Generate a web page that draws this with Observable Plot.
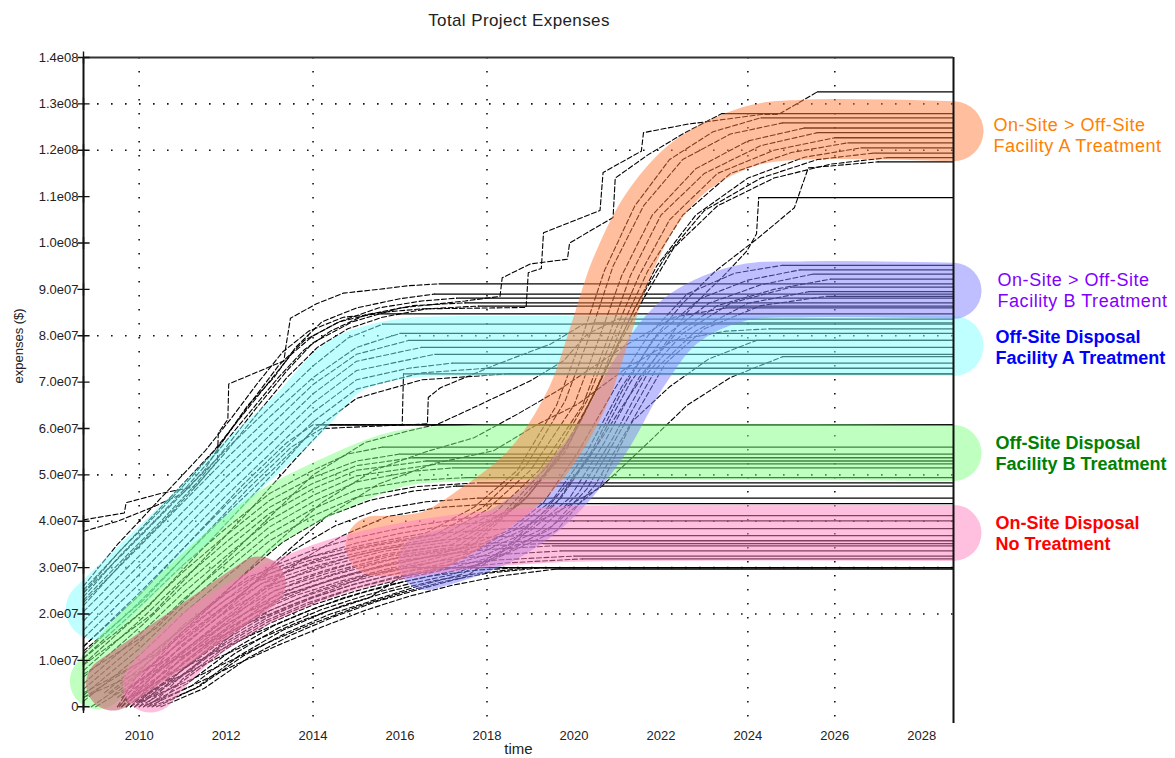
<!DOCTYPE html>
<html>
<head>
<meta charset="utf-8">
<script src="https://cdn.jsdelivr.net/npm/d3@7"></script>
<script src="https://cdn.jsdelivr.net/npm/@observablehq/plot@0.6"></script>
<style>
  html, body { margin: 0; padding: 0; background: #fff; overflow: hidden; }
  body { font-family: "Liberation Sans", Arial, sans-serif; width: 1175px; height: 758px; }
  #title { position: relative; width: 1175px; height: 40px; }
  #title span { position: absolute; left: 519px; top: 11px; transform: translateX(-50%);
    font-size: 17px; letter-spacing: 0.4px; color: #222; white-space: nowrap; }
  g[fill="#ff8000"] text, g[fill="#8000ff"] text { letter-spacing: 0.55px; }
</style>
</head>
<body>
<div id="title"><span>Total Project Expenses</span></div>
<div id="chart"></div>
<script>
// ---------- time span and axis values (values in units of 1e7 $) ----------
const startYear = 2008.72;
const endYear = 2028.73;
const yTicks = [0, 1, 2, 3, 4, 5, 6, 7, 8, 9, 10, 11, 12, 13, 14];
const yTickLabels = ["0", "1.0e07", "2.0e07", "3.0e07", "4.0e07", "5.0e07", "6.0e07", "7.0e07",
  "8.0e07", "9.0e07", "1.0e08", "1.1e08", "1.2e08", "1.3e08", "1.4e08"];
const xTicks = [2010, 2012, 2014, 2016, 2018, 2020, 2022, 2024, 2026, 2028];
const gridY = [2, 3, 4, 5, 8, 12, 13];
const gridX = [2010, 2014, 2018, 2024, 2026];

// ---------- realizations: [year, expenses/1e7] ----------
const upperRuns = [
  [[2008.72,4.03],[2009.66,4.18],[2009.7,4.4],[2010.5,4.6],[2011.3,4.75],[2011.8,5.3],[2011.82,5.9],[2012.04,6.2],[2012.06,6.96],[2013.33,7.46],[2013.37,7.74],[2013.48,8.38],[2014.08,8.69],[2014.7,8.92],[2015.5,9.0],[2016.2,9.08],[2016.9,9.12]],
  [[2008.72,3.78],[2009.5,4.0],[2010.3,4.3],[2011.0,4.6],[2011.5,5.1],[2011.9,5.7],[2012.5,6.5],[2013.1,7.1],[2013.6,7.75],[2014.2,8.3],[2015.0,8.6],[2016.0,8.8],[2016.8,8.9]],
  [[2008.72,2.46],[2009.5,3.3],[2010.3,4.1],[2011.0,4.8],[2011.7,5.5],[2012.3,6.2],[2012.9,6.9],[2013.5,7.6],[2014.0,8.0],[2014.6,8.3],[2015.5,8.6],[2016.5,8.75],[2017.3,8.81]],
  [[2008.72,2.37],[2009.6,3.3],[2010.4,4.05],[2011.1,4.75],[2011.8,5.5],[2012.5,6.3],[2013.2,7.1],[2013.8,7.7],[2014.4,8.1],[2015.2,8.45],[2016.3,8.65],[2017.5,8.71]],
  [[2008.72,2.18],[2009.7,3.2],[2010.5,3.95],[2011.3,4.75],[2012.0,5.5],[2012.7,6.3],[2013.4,7.1],[2014.1,7.75],[2014.8,8.15],[2015.6,8.4],[2016.6,8.58],[2017.8,8.64]],
  [[2008.72,2.6],[2009.5,3.5],[2010.2,4.2],[2010.9,4.9],[2011.5,5.5],[2012.1,6.2],[2012.7,6.95],[2013.3,7.65],[2013.9,8.1],[2014.7,8.4],[2015.5,8.47]]
];
const tallRuns = [
  [[2008.72,2.52],[2009.6,3.4],[2010.4,4.15],[2011.2,4.95],[2011.9,5.7],[2012.6,6.6],[2013.2,7.35],[2013.8,7.9],[2014.6,8.3],[2015.5,8.5],[2016.5,8.58],[2018.9,8.61],[2018.95,9.36],[2019.25,9.45],[2019.3,10.22],[2020.6,10.7],[2020.67,11.52],[2021.55,11.98],[2021.6,12.38],[2022.6,12.56],[2024.3,12.77],[2024.7,12.77],[2025.6,13.26]],
  [[2008.72,2.3],[2009.7,3.25],[2010.5,4.0],[2011.3,4.8],[2012.0,5.6],[2012.7,6.45],[2013.4,7.25],[2014.0,7.85],[2014.9,8.3],[2016.0,8.6],[2017.5,8.75],[2018.3,8.85],[2018.35,9.25],[2019.0,9.55],[2019.85,9.65],[2019.9,10.0],[2020.9,10.55],[2020.95,11.4],[2021.7,11.9],[2022.5,12.35],[2023.4,12.79]],
  [[2010.4,0.0],[2011.4,0.45],[2012.4,1.1],[2013.4,1.6],[2014.4,2.0],[2015.4,2.3],[2016.4,2.6],[2017.4,2.85],[2018.4,3.4],[2019.3,4.2],[2020.3,5.3],[2021.2,6.6],[2022.0,7.7],[2022.6,8.5],[2023.08,8.97],[2023.4,9.25],[2023.98,9.83],[2024.2,10.2],[2024.25,10.98]],
  [[2010.5,0.0],[2011.5,0.4],[2012.5,1.05],[2013.5,1.55],[2014.5,1.95],[2015.5,2.28],[2016.5,2.55],[2017.5,2.8],[2018.6,3.5],[2019.6,4.4],[2020.4,5.5],[2021.1,6.8],[2021.8,7.9],[2022.5,8.7],[2023.26,9.4],[2024.24,10.11],[2025.07,10.76],[2025.39,11.62],[2027.0,11.75]]
];
const cyanRuns = [
  [[2008.72,2.45],[2010.0,3.65],[2011.0,4.6],[2012.0,5.55],[2013.0,6.45],[2014.0,7.35],[2014.8,7.95],[2015.6,8.25]],
  [[2008.72,2.25],[2010.0,3.45],[2011.0,4.4],[2012.0,5.35],[2013.0,6.25],[2014.0,7.1],[2015.0,7.75],[2016.0,8.05]],
  [[2008.72,2.05],[2010.0,3.25],[2011.0,4.2],[2012.0,5.15],[2013.0,6.05],[2014.0,6.95],[2015.0,7.6],[2016.2,7.9]],
  [[2008.72,1.85],[2010.0,3.05],[2011.0,4.0],[2012.0,4.95],[2013.0,5.85],[2014.0,6.75],[2015.0,7.45],[2016.5,7.75]],
  [[2008.72,1.65],[2010.0,2.85],[2011.0,3.8],[2012.0,4.75],[2013.0,5.65],[2014.0,6.55],[2015.0,7.25],[2016.8,7.6]],
  [[2008.72,1.48],[2010.0,2.65],[2011.0,3.6],[2012.0,4.55],[2013.0,5.45],[2014.0,6.35],[2015.0,7.05],[2016.2,7.3],[2017.2,7.41]],
  [[2008.72,1.3],[2010.0,2.45],[2011.0,3.4],[2012.0,4.35],[2013.0,5.25],[2014.0,6.15],[2015.0,6.85],[2016.5,7.2],[2018.0,7.3]],
  [[2008.72,1.14],[2010.0,2.25],[2011.0,3.2],[2012.0,4.15],[2013.0,5.05],[2014.0,5.95],[2015.0,6.65],[2016.5,7.05],[2018.5,7.18]]
];
const betweenRuns = [
  [[2008.72,1.3],[2010.0,2.4],[2011.2,3.6],[2012.4,4.8],[2013.4,5.7],[2014.0,6.08],[2016.05,6.08],[2016.08,7.18]],
  [[2008.72,1.05],[2010.2,2.15],[2011.4,3.35],[2012.6,4.55],[2013.5,5.45],[2014.1,6.08]],
  [[2008.72,0.9],[2010.3,2.0],[2011.5,3.2],[2012.7,4.4],[2013.6,5.35],[2014.3,6.05],[2014.35,6.08]],
  [[2008.72,1.2],[2010.1,2.3],[2011.3,3.5],[2012.5,4.7],[2013.5,5.6],[2014.2,6.0],[2016.63,6.1],[2016.65,6.67],[2016.93,6.88],[2018.24,7.39],[2019.46,7.82],[2020.22,8.25],[2020.5,8.28]],
  [[2008.72,0.7],[2010.4,1.7],[2011.7,2.9],[2012.9,4.0],[2014.0,5.0],[2015.2,5.7],[2016.2,5.95],[2016.86,6.09],[2017.85,6.52],[2019.0,7.03],[2019.76,7.46],[2020.3,8.03],[2021.0,8.36]],
  [[2008.72,0.3],[2010.5,1.2],[2011.8,2.3],[2013.0,3.4],[2014.2,4.4],[2015.4,5.1],[2016.6,5.5],[2017.7,5.8],[2018.7,6.31],[2019.62,6.81],[2020.08,7.1],[2021.2,7.8],[2022.3,8.4],[2023.5,8.6]],
  [[2008.72,0.2],[2010.6,1.0],[2011.9,2.0],[2013.1,3.1],[2014.3,4.1],[2015.5,4.8],[2016.8,5.25],[2018.15,5.52],[2019.16,6.09],[2020.08,6.52],[2021.2,7.3],[2022.3,7.9],[2023.5,8.1],[2024.5,8.15]],
  [[2008.72,0.2],[2010.0,0.95],[2011.2,1.85],[2012.3,2.75],[2013.3,3.55],[2014.3,4.1],[2015.3,4.45],[2016.3,4.65],[2017.3,4.76]],
  [[2008.9,0.0],[2010.2,0.85],[2011.4,1.7],[2012.5,2.55],[2013.5,3.35],[2014.5,3.9],[2015.5,4.25],[2016.6,4.42],[2017.8,4.5]],
  [[2009.0,0.0],[2010.4,0.8],[2011.6,1.6],[2012.7,2.4],[2013.7,3.15],[2014.7,3.7],[2015.7,4.1],[2016.9,4.3],[2018.2,4.38]]
];
const greenRuns = [
  [[2008.72,1.05],[2010.0,2.15],[2011.0,3.05],[2012.0,3.85],[2013.0,4.6],[2014.0,5.1],[2014.8,5.45],[2015.6,5.6]],
  [[2008.72,0.92],[2010.0,2.0],[2011.0,2.9],[2012.0,3.7],[2013.0,4.45],[2014.0,4.95],[2015.0,5.3],[2016.0,5.45]],
  [[2008.72,0.78],[2010.0,1.85],[2011.0,2.75],[2012.0,3.55],[2013.0,4.3],[2014.0,4.82],[2015.0,5.2],[2016.3,5.37]],
  [[2008.72,0.64],[2010.0,1.7],[2011.0,2.6],[2012.0,3.4],[2013.0,4.17],[2014.0,4.7],[2015.0,5.1],[2016.6,5.3]],
  [[2008.72,0.5],[2010.0,1.55],[2011.0,2.45],[2012.0,3.25],[2013.0,4.02],[2014.0,4.56],[2015.0,4.98],[2016.9,5.24]],
  [[2008.72,0.38],[2010.0,1.4],[2011.0,2.3],[2012.0,3.1],[2013.0,3.88],[2014.0,4.42],[2015.0,4.85],[2016.3,5.08],[2017.2,5.15]],
  [[2008.72,0.25],[2010.0,1.25],[2011.0,2.15],[2012.0,2.95],[2013.0,3.73],[2014.0,4.27],[2015.0,4.68],[2016.3,4.88],[2017.5,4.94]],
  [[2008.72,0.12],[2010.0,1.1],[2011.0,2.0],[2012.0,2.8],[2013.0,3.58],[2014.0,4.12],[2015.0,4.52],[2016.4,4.75],[2017.8,4.83]]
];
const lowerRuns = [
  [[2009.6,0.3],[2010.5,0.85],[2011.5,1.35],[2012.5,1.8],[2013.5,2.2],[2014.5,2.55],[2015.3,2.85],[2016.2,3.0]],
  [[2009.9,0.15],[2010.8,0.6],[2011.8,1.05],[2012.8,1.48],[2013.8,1.88],[2014.8,2.22],[2015.8,2.5],[2016.8,2.72],[2017.8,2.88],[2019.0,3.0]],
  [[2010.0,0.1],[2011.0,0.5],[2012.0,0.95],[2013.0,1.4],[2014.0,1.8],[2015.0,2.15],[2016.0,2.45],[2017.0,2.7],[2018.0,2.88],[2019.3,3.0]],
  [[2009.8,0.2],[2010.7,0.7],[2011.7,1.15],[2012.7,1.6],[2013.7,2.0],[2014.7,2.35],[2015.7,2.62],[2016.7,2.82],[2017.8,2.95],[2018.8,3.0]],
  [[2010.2,0.05],[2011.2,0.45],[2012.2,0.9],[2013.2,1.33],[2014.2,1.72],[2015.2,2.08],[2016.2,2.38],[2017.2,2.62],[2018.3,2.82],[2019.6,2.97]]
];
const pinkRuns = [
  [[2009.5,0.0],[2010.0,0.75],[2011.0,1.75],[2012.0,2.45],[2013.0,3.0],[2014.0,3.38],[2015.0,3.65],[2016.0,3.85],[2017.0,4.0],[2018.0,4.12]],
  [[2009.55,0.0],[2010.0,0.6],[2011.0,1.62],[2012.0,2.32],[2013.0,2.87],[2014.0,3.25],[2015.0,3.53],[2016.0,3.74],[2017.0,3.9],[2018.3,4.01]],
  [[2009.6,0.0],[2010.0,0.47],[2011.0,1.5],[2012.0,2.2],[2013.0,2.75],[2014.0,3.13],[2015.0,3.42],[2016.0,3.6],[2017.0,3.75],[2018.5,3.84]],
  [[2009.7,0.0],[2010.0,0.35],[2011.0,1.35],[2012.0,2.05],[2013.0,2.6],[2014.0,2.98],[2015.0,3.27],[2016.0,3.47],[2017.0,3.6],[2018.7,3.69]],
  [[2009.8,0.0],[2010.2,0.4],[2011.0,1.2],[2012.0,1.9],[2013.0,2.45],[2014.0,2.83],[2015.0,3.12],[2016.0,3.32],[2017.0,3.47],[2019.0,3.58]],
  [[2009.9,0.0],[2010.3,0.38],[2011.0,1.08],[2012.0,1.78],[2013.0,2.33],[2014.0,2.72],[2015.0,3.02],[2016.0,3.23],[2017.0,3.38],[2018.0,3.47],[2019.3,3.52]],
  [[2010.0,0.0],[2010.4,0.36],[2011.0,0.95],[2012.0,1.65],[2013.0,2.2],[2014.0,2.6],[2015.0,2.9],[2016.0,3.12],[2017.0,3.28],[2018.0,3.39],[2019.5,3.47]],
  [[2010.1,0.0],[2010.5,0.34],[2011.0,0.82],[2012.0,1.52],[2013.0,2.07],[2014.0,2.47],[2015.0,2.78],[2016.0,3.0],[2017.0,3.16],[2018.2,3.28],[2019.7,3.36]],
  [[2010.2,0.0],[2010.6,0.32],[2011.0,0.7],[2012.0,1.4],[2013.0,1.95],[2014.0,2.35],[2015.0,2.66],[2016.0,2.89],[2017.0,3.05],[2018.3,3.17],[2020.0,3.25]],
  [[2010.3,0.0],[2010.7,0.3],[2011.0,0.6],[2012.0,1.3],[2013.0,1.85],[2014.0,2.25],[2015.0,2.57],[2016.0,2.8],[2017.0,2.97],[2018.4,3.1],[2020.2,3.19]]
];
const orangeRuns = [
  [[2009.2,0.3],[2010.3,1.15],[2011.4,2.0],[2012.5,2.8],[2013.8,3.2],[2015.2,3.5],[2016.6,3.75],[2017.7,4.3],[2018.7,5.1],[2019.6,6.5],[2020.2,8.0],[2020.7,9.4],[2021.4,10.8],[2022.2,11.8],[2023.2,12.4],[2024.3,12.7]],
  [[2009.3,0.3],[2010.4,1.1],[2011.5,1.95],[2012.6,2.75],[2013.9,3.15],[2015.3,3.45],[2016.8,3.7],[2017.9,4.3],[2018.9,5.2],[2019.8,6.6],[2020.4,8.1],[2020.9,9.5],[2021.6,10.8],[2022.5,11.8],[2023.6,12.35],[2024.8,12.59]],
  [[2009.4,0.25],[2010.5,1.05],[2011.6,1.9],[2012.7,2.7],[2014.0,3.1],[2015.4,3.4],[2016.9,3.65],[2018.0,4.25],[2019.0,5.1],[2020.0,6.5],[2020.6,8.0],[2021.1,9.3],[2021.8,10.6],[2022.8,11.6],[2024.0,12.2],[2025.3,12.48]],
  [[2009.5,0.2],[2010.6,1.0],[2011.7,1.85],[2012.8,2.65],[2014.1,3.05],[2015.5,3.38],[2017.0,3.6],[2018.2,4.2],[2019.2,5.1],[2020.2,6.5],[2020.8,8.0],[2021.3,9.3],[2022.0,10.6],[2023.0,11.5],[2024.3,12.1],[2025.6,12.38]],
  [[2009.6,0.2],[2010.7,0.95],[2011.8,1.8],[2012.9,2.6],[2014.2,3.0],[2015.6,3.35],[2017.1,3.55],[2018.4,4.2],[2019.4,5.2],[2020.3,6.6],[2020.9,8.0],[2021.5,9.3],[2022.2,10.5],[2023.3,11.5],[2024.6,12.0],[2026.0,12.27]],
  [[2009.7,0.15],[2010.8,0.9],[2011.9,1.75],[2013.0,2.55],[2014.3,2.95],[2015.7,3.3],[2017.2,3.5],[2018.6,4.3],[2019.6,5.3],[2020.5,6.8],[2021.1,8.2],[2021.7,9.4],[2022.5,10.6],[2023.6,11.5],[2025.0,11.95],[2026.3,12.16]],
  [[2009.8,0.15],[2010.9,0.85],[2012.0,1.7],[2013.1,2.5],[2014.4,2.9],[2015.8,3.25],[2017.3,3.45],[2018.8,4.4],[2019.8,5.5],[2020.6,7.0],[2021.3,8.4],[2021.9,9.5],[2022.8,10.6],[2024.0,11.4],[2025.3,11.85],[2026.6,12.05]],
  [[2009.9,0.1],[2011.0,0.8],[2012.1,1.65],[2013.2,2.45],[2014.5,2.85],[2015.9,3.2],[2017.4,3.4],[2018.9,4.5],[2019.9,5.7],[2020.7,7.2],[2021.4,8.6],[2022.1,9.7],[2023.0,10.7],[2024.3,11.4],[2025.6,11.8],[2026.9,11.94]],
  [[2010.0,0.1],[2011.1,0.75],[2012.2,1.6],[2013.3,2.4],[2014.6,2.8],[2016.0,3.15],[2017.5,3.35],[2019.0,4.6],[2020.0,5.9],[2020.8,7.4],[2021.6,8.8],[2022.3,9.9],[2023.3,10.8],[2024.6,11.4],[2025.9,11.7],[2027.2,11.84]]
];
const blueRuns = [
  [[2009.5,0.0],[2010.5,0.8],[2011.5,1.5],[2012.5,2.05],[2013.5,2.45],[2014.5,2.75],[2015.5,3.0],[2016.5,3.2],[2017.5,3.45],[2018.5,3.8],[2019.3,4.4],[2020.1,5.5],[2020.9,6.8],[2021.7,8.0],[2022.6,8.9],[2023.7,9.35],[2024.8,9.52]],
  [[2009.6,0.0],[2010.6,0.75],[2011.6,1.45],[2012.6,2.0],[2013.6,2.4],[2014.6,2.7],[2015.6,2.95],[2016.6,3.15],[2017.6,3.4],[2018.6,3.8],[2019.5,4.45],[2020.3,5.5],[2021.1,6.9],[2021.9,8.0],[2022.9,8.8],[2024.0,9.2],[2025.2,9.42]],
  [[2009.7,0.0],[2010.7,0.7],[2011.7,1.4],[2012.7,1.95],[2013.7,2.35],[2014.7,2.65],[2015.7,2.9],[2016.7,3.1],[2017.7,3.35],[2018.8,3.8],[2019.7,4.5],[2020.5,5.6],[2021.3,7.0],[2022.1,8.0],[2023.1,8.7],[2024.3,9.1],[2025.5,9.33]],
  [[2009.8,0.0],[2010.8,0.65],[2011.8,1.35],[2012.8,1.9],[2013.8,2.3],[2014.8,2.6],[2015.8,2.85],[2016.8,3.05],[2017.8,3.3],[2019.0,3.8],[2019.9,4.5],[2020.7,5.7],[2021.5,7.1],[2022.3,8.0],[2023.3,8.65],[2024.6,9.0],[2025.9,9.22]],
  [[2009.9,0.0],[2010.9,0.6],[2011.9,1.3],[2012.9,1.85],[2013.9,2.25],[2014.9,2.55],[2015.9,2.8],[2016.9,3.0],[2017.9,3.25],[2019.2,3.8],[2020.1,4.6],[2020.9,5.8],[2021.7,7.2],[2022.5,8.05],[2023.6,8.7],[2025.0,9.05]],
  [[2010.0,0.0],[2011.0,0.55],[2012.0,1.25],[2013.0,1.8],[2014.0,2.2],[2015.0,2.5],[2016.0,2.75],[2017.0,2.95],[2018.0,3.2],[2019.4,3.8],[2020.3,4.7],[2021.1,6.0],[2021.9,7.3],[2022.8,8.1],[2024.0,8.7],[2025.4,8.95]],
  [[2010.1,0.0],[2011.1,0.5],[2012.1,1.2],[2013.1,1.75],[2014.1,2.15],[2015.1,2.45],[2016.1,2.7],[2017.1,2.9],[2018.1,3.15],[2019.6,3.8],[2020.5,4.8],[2021.3,6.1],[2022.1,7.4],[2023.0,8.15],[2024.3,8.65],[2025.8,8.85]],
  [[2010.2,0.0],[2011.2,0.45],[2012.2,1.15],[2013.2,1.7],[2014.2,2.1],[2015.2,2.4],[2016.2,2.65],[2017.2,2.85],[2018.4,3.3],[2019.5,3.9],[2020.6,4.75],[2021.35,6.16],[2022.2,6.9],[2023.1,7.5],[2024.2,7.9]],
  [[2010.3,0.0],[2011.3,0.4],[2012.3,1.1],[2013.3,1.65],[2014.3,2.05],[2015.3,2.35],[2016.0,2.79],[2017.0,3.0],[2018.4,3.72],[2019.46,4.12],[2020.61,4.73],[2021.6,5.6],[2022.6,6.5],[2023.6,7.1],[2024.8,7.55]]
];

// ---------- highlighted scenario bands: [year, expenses/1e7] ----------
const cyanBand = [[2009.0,2.1],[2010.0,3.0],[2011.26,4.14],[2012.47,5.28],[2013.6,6.25],[2014.7,7.33],[2015.5,7.62],[2016.3,7.75],[2017.5,7.78],[2028.73,7.78]];
const greenBand = [[2009.05,0.55],[2010.03,1.6],[2011.41,2.85],[2013.03,4.1],[2014.7,4.9],[2016.0,5.35],[2017.5,5.47],[2028.73,5.47]];
const blueBand = [[2016.6,3.12],[2017.6,3.4],[2018.5,3.78],[2019.46,4.44],[2020.61,5.73],[2021.53,7.24],[2022.45,8.32],[2023.83,8.92],[2025.21,9.0],[2028.73,8.97]];
const orangeBand = [[2015.44,3.47],[2016.7,3.58],[2017.85,4.22],[2019.0,5.09],[2020.04,6.59],[2020.61,8.1],[2021.07,9.4],[2021.76,10.69],[2022.68,11.66],[2024.07,12.31],[2025.21,12.44],[2028.73,12.41]];
const transitionBand = [[2009.4,0.5],[2012.75,2.66]];
const pinkBand = [[2010.26,0.48],[2011.26,1.45],[2012.56,2.25],[2013.6,2.7],[2014.7,3.07],[2016.0,3.35],[2017.4,3.55],[2019.2,3.7],[2021.5,3.75],[2028.73,3.75]];

// ---------- scenario labels ----------
const labelTexts = [
  "On-Site > Off-Site\nFacility A Treatment",
  "On-Site > Off-Site\nFacility B Treatment",
  "Off-Site Disposal\nFacility A Treatment",
  "Off-Site Disposal\nFacility B Treatment",
  "On-Site Disposal\nNo Treatment"
];
const labelValues = [12.34, 9.0, 7.77, 5.48, 3.76];
const labelColors = ["#ff8000", "#8000ff", "#0000ff", "#008000", "#ff0000"];

// ---------- build tables ----------
const runGroups = [upperRuns, tallRuns, cyanRuns, betweenRuns, greenRuns, lowerRuns, pinkRuns, orangeRuns, blueRuns];
const risePts = [];
const flatSegs = [];
runGroups.forEach((runs, g) => runs.forEach((run, r) => {
  const id = g + "-" + r;
  for (const [t, v] of run) risePts.push({id, t, v});
  const [t0, v0] = run[run.length - 1];
  flatSegs.push({t0, t1: endYear, v: v0});
}));
const yLabelOf = new Map(yTicks.map((d, i) => [d, yTickLabels[i]]));

const band = (pts, color, width, opacity) => Plot.line(pts, {
  x: d => d[0], y: d => d[1], stroke: color, strokeWidth: width, strokeOpacity: opacity,
  strokeLinecap: "round", strokeLinejoin: "round", curve: "catmull-rom"
});

const labelDx = [40, 44, 42, 42, 42];
const labelBold = [false, false, true, true, true];
const labelMarks = labelTexts.map((txt, i) => Plot.text([txt], {
  x: () => endYear, y: () => labelValues[i], text: d => d,
  fill: labelColors[i], dx: labelDx[i], textAnchor: "start", lineAnchor: "middle",
  fontSize: 18, lineHeight: 1.17, fontWeight: labelBold[i] ? "bold" : "normal"
}));

const chart = Plot.plot({
  width: 1175,
  height: 718,
  marginLeft: 83,
  marginRight: 222,
  marginTop: 17,
  marginBottom: 35,
  x: {domain: [startYear, endYear]},
  y: {domain: [-0.36, 14]},
  style: {fontFamily: "'Liberation Sans', Arial, sans-serif", fontSize: "13px", color: "#222", background: "#fff", overflow: "visible"},
  marks: [
    Plot.ruleY(gridY, {stroke: "#111", strokeWidth: 1.6, strokeDasharray: "1.6,12.4"}),
    Plot.ruleX(gridX, {stroke: "#111", strokeWidth: 1.6, strokeDasharray: "1.6,12.4"}),
    Plot.line(risePts, {x: "t", y: "v", z: "id", stroke: "#000", strokeWidth: 1.1, strokeDasharray: "5,2.5"}),
    Plot.ruleY(flatSegs, {y: "v", x1: "t0", x2: "t1", stroke: "#000", strokeWidth: 1.3}),
    band(cyanBand, "#80ffff", 60, 0.5),
    band(greenBand, "#80ff80", 56, 0.5),
    band(blueBand, "#8080ff", 56, 0.5),
    band(orangeBand, "#ff8040", 60, 0.5),
    band(transitionBand, "#c86e78", 54, 0.65),
    band(pinkBand, "#ff80c0", 56, 0.5),
    Plot.ruleX([startYear], {y1: -0.09, y2: 14, stroke: "#111", strokeWidth: 2}),
    Plot.ruleX([endYear], {stroke: "#111", strokeWidth: 2}),
    Plot.ruleY([14], {x1: startYear, x2: endYear, stroke: "#333", strokeWidth: 2}),
    Plot.dot(yTicks, {x: () => startYear, y: d => d, symbol: "plus", r: 4, stroke: "#111", strokeWidth: 1.4}),
    Plot.axisY({ticks: yTicks, tickSize: 0, tickPadding: 5, tickFormat: d => yLabelOf.get(d), label: null, fontSize: 13, fill: "#222"}),
    Plot.axisX({ticks: xTicks, tickSize: 0, tickPadding: 7, tickFormat: d => String(d), label: null, fontSize: 13, fill: "#222"}),
    Plot.text(["time"], {frameAnchor: "bottom", dy: 30, fontSize: 15, fill: "#222"}),
    Plot.text(["expenses ($)"], {frameAnchor: "left", dx: -65, dy: -7, rotate: -90, fontSize: 13, fill: "#222"}),
    ...labelMarks
  ]
});
document.getElementById("chart").appendChild(chart);
</script>
</body>
</html>
